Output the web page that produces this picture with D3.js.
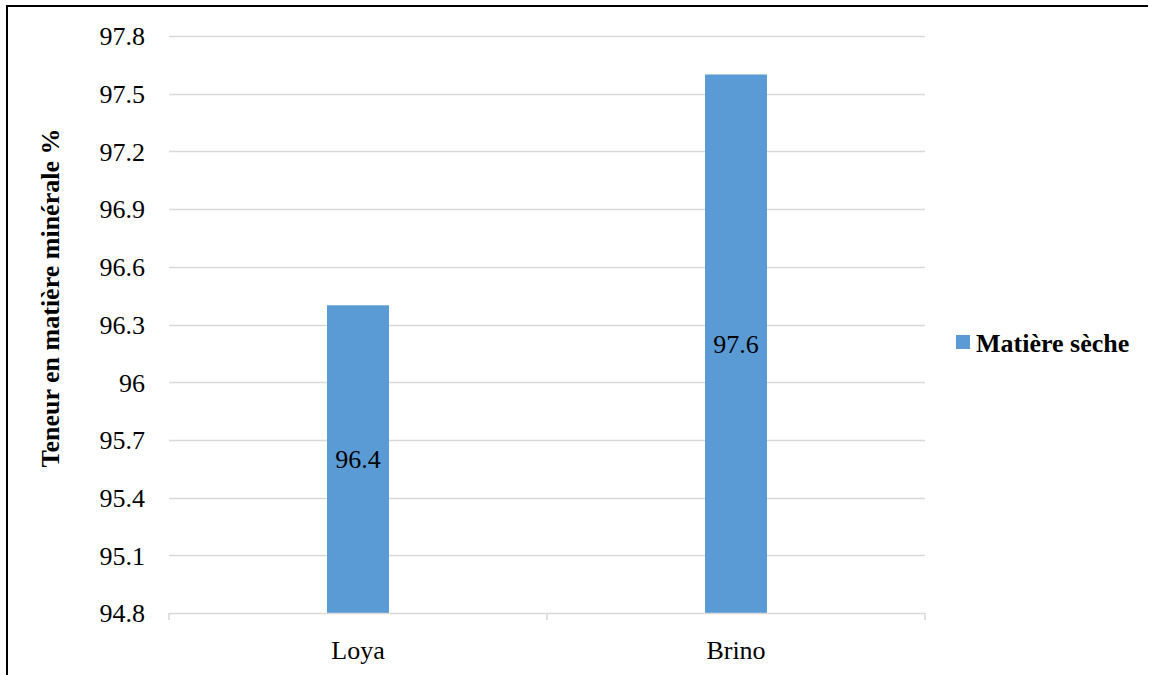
<!DOCTYPE html>
<html>
<head>
<meta charset="utf-8">
<script src="https://cdn.jsdelivr.net/npm/d3@7"></script>
<style>
  html, body { margin: 0; padding: 0; background: #fff; }
  svg { display: block; }
</style>
</head>
<body>
<svg id="chart" width="1153" height="675"></svg>
<script>
// Mineral content of two samples
const categories = ["Loya", "Brino"];
const values = [96.4, 97.6];
const seriesName = "Matière sèche";
const yTicks = [94.8, 95.1, 95.4, 95.7, 96, 96.3, 96.6, 96.9, 97.2, 97.5, 97.8];
const yTitle = "Teneur en matière minérale %";

const W = 1153, H = 675;
const margin = { left: 169, right: 1153 - 925, top: 36, bottom: 675 - 613 };
const barColor = "#5B9BD5";
const gridColor = "#D9D9D9";
const serif = "Times New Roman, Liberation Serif, DejaVu Serif, serif";

const svg = d3.select("#chart").attr("font-family", serif);

// Frame: top and left edges only
svg.append("line").attr("x1", 7).attr("x2", 1148).attr("y1", 6).attr("y2", 6)
  .attr("stroke", "#000").attr("stroke-width", 2);
svg.append("line").attr("x1", 7).attr("x2", 7).attr("y1", 5).attr("y2", H)
  .attr("stroke", "#000").attr("stroke-width", 2);

const x = d3.scaleBand().domain(categories)
  .range([margin.left, W - margin.right]).paddingInner(0).paddingOuter(0);
const y = d3.scaleLinear().domain([94.8, 97.8])
  .range([H - margin.bottom, margin.top]);

// Horizontal gridlines
svg.append("g").selectAll("line").data(yTicks.slice(1)).join("line")
  .attr("x1", margin.left).attr("x2", W - margin.right)
  .attr("y1", d => Math.round(y(d)) + 0.5).attr("y2", d => Math.round(y(d)) + 0.5)
  .attr("stroke", gridColor).attr("stroke-width", 1.5);

// Y tick labels
const yAxis = d3.axisLeft(y).tickValues(yTicks).tickSize(0).tickPadding(24)
  .tickFormat(d => String(d));
const gy = svg.append("g").attr("transform", `translate(${margin.left},0)`).call(yAxis)
  .attr("font-family", serif).attr("font-size", 26);
gy.select(".domain").remove();
gy.selectAll("text").attr("dy", "0.34em").attr("fill", "#000");

// Bars
const bw = 62;
svg.append("g").selectAll("rect").data(values).join("rect")
  .attr("x", (d, i) => x(categories[i]) + x.bandwidth() / 2 - bw / 2)
  .attr("width", bw)
  .attr("y", d => y(d))
  .attr("height", d => y(94.8) - y(d))
  .attr("fill", barColor);

// Value labels at bar centres
svg.append("g").selectAll("text").data(values).join("text")
  .attr("x", (d, i) => x(categories[i]) + x.bandwidth() / 2)
  .attr("y", d => (y(d) + y(94.8)) / 2)
  .attr("dy", "0.35em")
  .attr("text-anchor", "middle")
  .attr("font-size", 26)
  .text(d => String(d));

// X axis line with category ticks
const xAxis = d3.axisBottom(x).tickSize(0).tickPadding(28);
const gx = svg.append("g").attr("transform", `translate(0,${H - margin.bottom})`).call(xAxis)
  .attr("font-family", serif).attr("font-size", 26);
gx.select(".domain").remove();
gx.selectAll("text").attr("fill", "#000");
svg.append("line")
  .attr("x1", margin.left).attr("x2", W - margin.right)
  .attr("y1", y(94.8) + 0.5).attr("y2", y(94.8) + 0.5)
  .attr("stroke", gridColor).attr("stroke-width", 1.5);
const bounds = [margin.left, margin.left + x.bandwidth(), W - margin.right];
svg.append("g").selectAll("line").data(bounds).join("line")
  .attr("x1", d => d).attr("x2", d => d)
  .attr("y1", y(94.8)).attr("y2", y(94.8) + 7)
  .attr("stroke", gridColor).attr("stroke-width", 1.5);

// Y axis title
svg.append("text")
  .attr("transform", `translate(59,${298}) rotate(-90)`)
  .attr("text-anchor", "middle")
  .attr("font-size", 26).attr("font-weight", "bold")
  .text(yTitle);

// Legend
const lg = svg.append("g").attr("transform", "translate(956,335)");
lg.append("rect").attr("width", 14).attr("height", 14).attr("fill", barColor);
lg.append("text").attr("x", 20).attr("y", 17)
  .attr("font-size", 26).attr("font-weight", "bold")
  .text(seriesName);
</script>
</body>
</html>
